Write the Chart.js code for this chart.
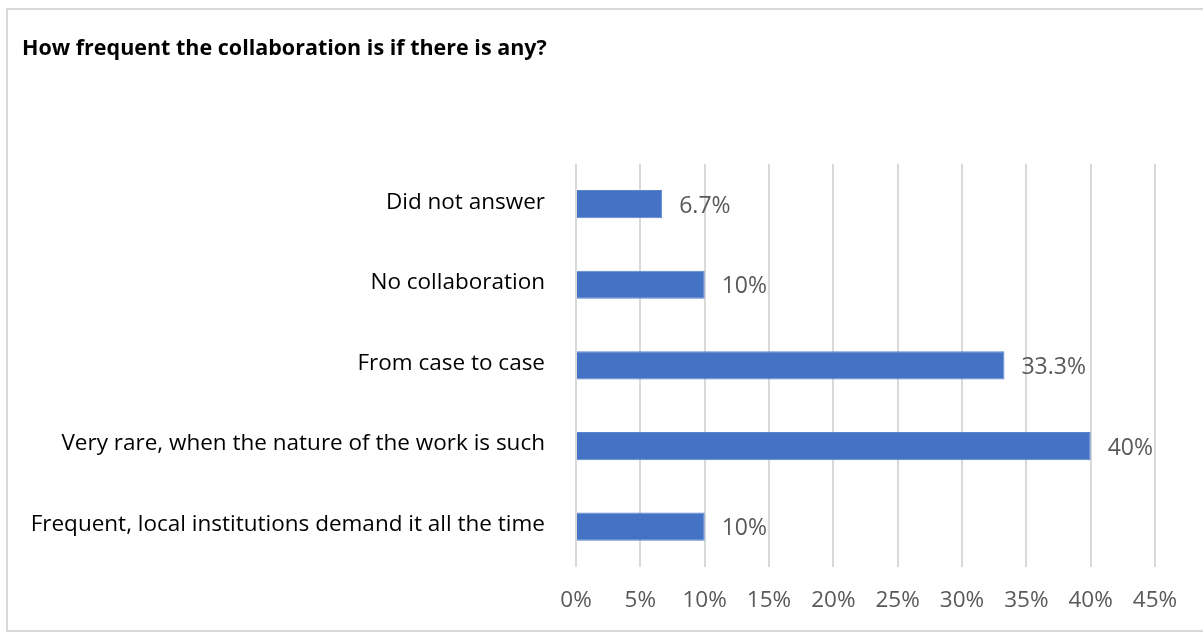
<!DOCTYPE html>
<html>
<head>
<meta charset="utf-8">
<script src="https://cdn.jsdelivr.net/npm/chart.js@4/dist/chart.umd.min.js"></script>
<style>
  html, body { margin: 0; padding: 0; background: #fff; overflow: hidden; }
  #frame {
    position: absolute; left: 6px; top: 8px; width: 1260px; height: 624px;
    border: 2px solid #d9d9d9; box-sizing: border-box;
  }
  #chart { position: absolute; left: 0; top: 0; }
</style>
</head>
<body>
<div id="frame"></div>
<canvas id="chart" width="1203" height="643"></canvas>
<script>
// answers, top to bottom
const categories = [
  "Did not answer",
  "No collaboration",
  "From case to case",
  "Very rare, when the nature of the work is such",
  "Frequent, local institutions demand it all the time"
];
const shares = [6.7, 10, 33.3, 40, 10];
const tickValues = [0, 5, 10, 15, 20, 25, 30, 35, 40, 45];

const FONT = "'Open Sans', sans-serif";

// writes the percentage just right of each bar
const valueLabels = {
  id: "valueLabels",
  afterDatasetsDraw(chart) {
    const ctx = chart.ctx;
    const meta = chart.getDatasetMeta(0);
    ctx.save();
    ctx.font = "23px " + FONT;
    ctx.fillStyle = "#595959";
    ctx.textAlign = "left";
    ctx.textBaseline = "middle";
    meta.data.forEach((bar, i) => {
      ctx.fillText(shares[i] + "%", bar.x + 17, bar.y + 2);
    });
    ctx.restore();
  }
};

new Chart(document.getElementById("chart"), {
  type: "bar",
  data: {
    labels: categories,
    datasets: [{
      data: shares,
      backgroundColor: "#4472C4",
      borderColor: "#5b85cf",
      borderWidth: 1,
      barPercentage: 0.7,
      categoryPercentage: 0.5
    }]
  },
  options: {
    indexAxis: "y",
    responsive: false,
    animation: false,
    layout: { padding: { left: 22, right: 48, top: 36, bottom: 0 } },
    plugins: {
      legend: { display: false },
      tooltip: { enabled: false },
      title: {
        display: true,
        text: "How frequent the collaboration is if there is any?",
        align: "start",
        color: "#000",
        font: { family: FONT, size: 21.5, weight: "bold" },
        padding: { top: 0, bottom: 102 }
      }
    },
    scales: {
      x: {
        min: 0,
        max: 45,
        afterBuildTicks: axis => { axis.ticks = tickValues.map(v => ({ value: v })); },
        // fixed band under the bars for the percent ticks
        afterFit: axis => { axis.height = 76; },
        grid: { color: "#d9d9d9", lineWidth: 2, drawTicks: false },
        border: { display: false },
        ticks: {
          color: "#595959",
          font: { family: FONT, size: 22.5 },
          padding: 20,
          maxRotation: 0,
          callback: v => v + "%"
        }
      },
      y: {
        // long answer texts need more than half the width
        afterFit: axis => { axis.width = 554; },
        grid: { display: false },
        border: { display: false },
        ticks: {
          color: "#000",
          font: { family: FONT, size: 22.5 },
          padding: 23,
          labelOffset: -2
        }
      }
    }
  },
  plugins: [valueLabels]
});
</script>
</body>
</html>
